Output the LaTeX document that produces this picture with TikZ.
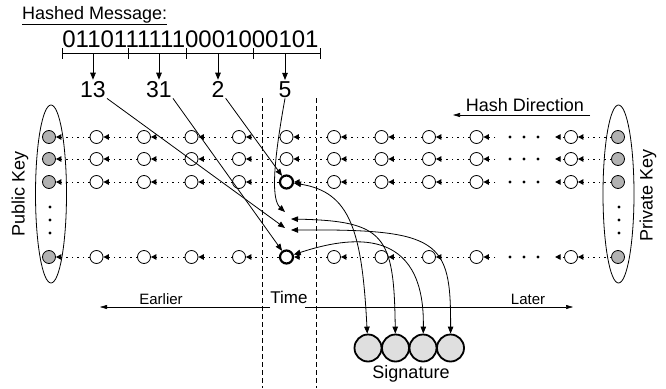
\documentclass[tikz,border=0pt]{standalone}
\usepackage{fontspec}
\setmainfont{Liberation Sans}
\usetikzlibrary{arrows.meta,shapes.geometric,positioning}

\begin{document}
\begin{tikzpicture}[x=1pt,y=-1pt,
  chain/.style={circle,draw,fill=white,minimum size=13pt,inner sep=0pt,line width=0.8pt},
  keynode/.style={chain,fill=gray!60},
  picked/.style={line width=2.2pt,minimum size=13pt},
  sel 3-5/.style={picked},
  sel 4-5/.style={picked},
  sigcell/.style={circle,draw,fill=gray!25,minimum size=27pt,inner sep=0pt,line width=1.8pt},
  keyring/.style={ellipse,draw,line width=0.8pt,minimum width=31pt,minimum height=178pt,inner sep=0pt},
  link/.style={dash pattern=on 1.5pt off 4pt,line width=1pt,-{Triangle[length=5.5pt,width=5.5pt]}},
  pointer/.style={line width=0.8pt,-{Triangle[length=7pt,width=5.5pt]}},
  both/.style={line width=0.8pt,{Triangle[length=7pt,width=5.5pt]}-{Triangle[length=7pt,width=5.5pt]}},
  axis/.style={line width=0.5pt,-{Triangle[length=7pt,width=4pt]}},
  divider/.style={line width=0.8pt,dash pattern=on 5pt off 3pt},
  big/.style={font=\fontsize{23}{26}\selectfont,inner sep=1pt},
  label/.style={font=\fontsize{18}{20}\selectfont,inner sep=0pt},
  small/.style={font=\fontsize{15}{17}\selectfont,inner sep=0pt}]

\useasboundingbox (0,0) rectangle (666,388);

% message and its four pieces
\node[label,anchor=base west] (title) at (22,19) {\underline{Hashed Message:}};
\node[big,font=\fontsize{24}{26}\selectfont,anchor=base,inner sep=0pt] (bits) at (190.5,47) {01101111110001000101};
\draw[line width=0.8pt] (62,53) -- (320,53);
\foreach \x in {62,128,186,253,320}
  \draw[line width=0.8pt] (\x,48) -- (\x,59);
\foreach \x/\n in {93/13,159/31,218/2,285/5} {
  \coordinate (r\n) at (\x,53);
  \node[big,anchor=base] (num\n) at (\x,97) {\n};
  \draw[pointer] (r\n) -- (num\n);
}

% key rings
\node[keyring] (pubring) at (51,194) {};
\node[keyring] (privring) at (618.5,194) {};
\node[label,rotate=90] (publabel) at (20,194) {Public Key};
\node[label,rotate=90] (privlabel) at (648,195) {Private Key};
\foreach \y in {207,220,233} {
  \fill (50,\y) circle (1.6);
  \fill (619,\y) circle (1.6);
}

% hash chains
\foreach \r/\y in {1/137,2/159,3/182,4/257} {
  \node[keynode] (pub\r) at (49,\y) {};
  \foreach \c in {1,...,9}
    \node[chain,sel \r-\c/.try] (n\r-\c) at ({49+47.5*\c},\y) {};
  \node[chain] (n\r-10) at (571,\y) {};
  \node[keynode] (priv\r) at (618,\y) {};
  \draw[link] (n\r-1) -- (pub\r);
  \foreach \c [evaluate=\c as \p using int(\c-1)] in {2,...,9}
    \draw[link] (n\r-\c) -- (n\r-\p);
  \draw[link] ([xshift=12]n\r-9.east) -- (n\r-9);
  \draw[link] (n\r-10) -- ([xshift=-9]n\r-10.west);
  \draw[link] (priv\r) -- (n\r-10);
  \foreach \x in {510,524,538}
    \fill (\x,\y) circle (1.7);
}

% time
\draw[divider] (262,98) -- (262,388);
\draw[divider] (316,98) -- (316,388);
\node[label,font=\fontsize{17}{19}\selectfont,anchor=base] (time) at (289,303) {Time};
\coordinate (early) at (100,307);
\coordinate (late) at (573,307);
\draw[axis] (270,307) -- (early);
\draw[axis] (305,307) -- (late);
\node[small,anchor=base] (earlier) at (161,304) {Earlier};
\node[small,anchor=base] (later) at (528,304) {Later};

% hash direction
\node[label,anchor=base] (hashdir) at (525,111) {Hash Direction};
\coordinate (hd1) at (590,115);
\coordinate (hd2) at (453,115);
\draw[axis,line width=0.7pt] (hd1) -- (hd2);

% picked values
\coordinate (m5) at (285,212);
\coordinate (m13) at (285,228);
\coordinate (m2) at (291,219);
\coordinate (m3) at (291,230);
\draw[pointer] (num13.south east) -- (m13);
\draw[pointer] (num31.south east) -- (n4-5);
\draw[pointer] (num2.south east) -- (n3-5);
\draw[pointer] (num5.south) .. controls (272,170) and (272,200) .. (m5);

% signature
\foreach \i/\x in {1/368,2/395.5,3/423,4/450.5}
  \node[sigcell] (sig\i) at (\x,348) {};
\node[label,anchor=base] (siglabel) at (411,378) {Signature};
\draw[both] (n3-5) .. controls (350,192) and (362,230) .. (sig1);
\draw[both] (m2) .. controls (385,221) and (394,235) .. (sig2);
\draw[both] (n4-5) .. controls (350,236) and (425,225) .. (sig3);
\draw[both] (m3) .. controls (440,229) and (451,240) .. (sig4);
\end{tikzpicture}
\end{document}
